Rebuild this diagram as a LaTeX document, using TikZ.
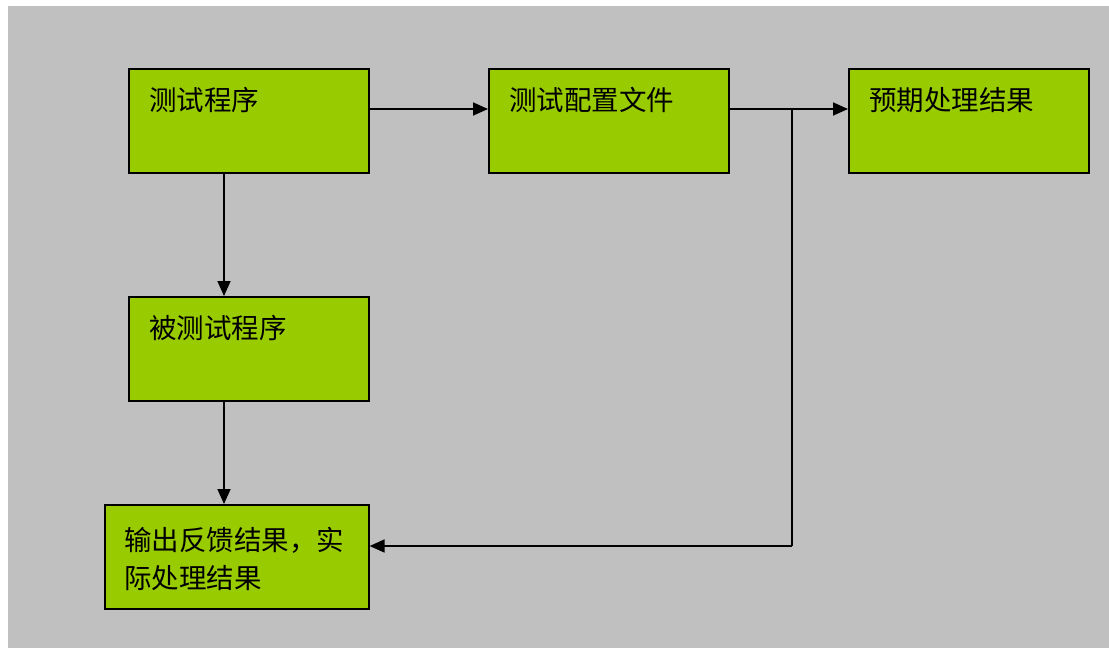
\documentclass[tikz,border=0pt]{standalone}
\usepackage{fontspec}
\newfontfamily\cjk{Noto Sans CJK SC}
\usetikzlibrary{arrows.meta}
\definecolor{bg}{HTML}{C0C0C0}
\definecolor{boxgreen}{HTML}{99CC00}
\tikzset{
  box/.style={draw=black, line width=1.6pt, fill=boxgreen, minimum width=240pt, minimum height=104pt, inner sep=0pt, anchor=north west},
  txt/.style={font=\cjk\fontsize{27.5pt}{38pt}\selectfont, anchor=west, inner sep=0pt, align=left, text=black},
  conn/.style={line width=1.7pt, -{Triangle[length=15pt,width=13pt]}},
  plain/.style={line width=1.7pt}
}
\begin{document}
\begin{tikzpicture}[x=1pt,y=-1pt]
\useasboundingbox (0,0) rectangle (1109,648);
\fill[bg] (8,6) rectangle (1109,648);
\node[box] (a) at (128,68) {};
\node[box] (b) at (488,68) {};
\node[box] (c) at (848,68) {};
\node[box] (d) at (128,296) {};
\node[box, minimum width=264pt] (e) at (104,504) {};
\node[txt] (ta) at (149,100) {测试程序};
\node[txt] (tb) at (509,100) {测试配置文件};
\node[txt] (tc) at (869,100) {预期处理结果};
\node[txt] (td) at (149,328) {被测试程序};
\node[txt] (te) at (124,559) {输出反馈结果，实\\际处理结果};
\coordinate (j1) at (792,109);
\coordinate (j2) at (792,546);
\coordinate (v1) at (224,0);
\draw[conn] (a.east |- j1) -- (b.west |- j1);
\draw[conn] (b.east |- j1) -- (c.west |- j1);
\draw[plain] (j1) -- (j2);
\draw[conn] (j2) -- (e.east |- j2);
\draw[conn] (a.south -| v1) -- (d.north -| v1);
\draw[conn] (d.south -| v1) -- (e.north -| v1);
\end{tikzpicture}
\end{document}
